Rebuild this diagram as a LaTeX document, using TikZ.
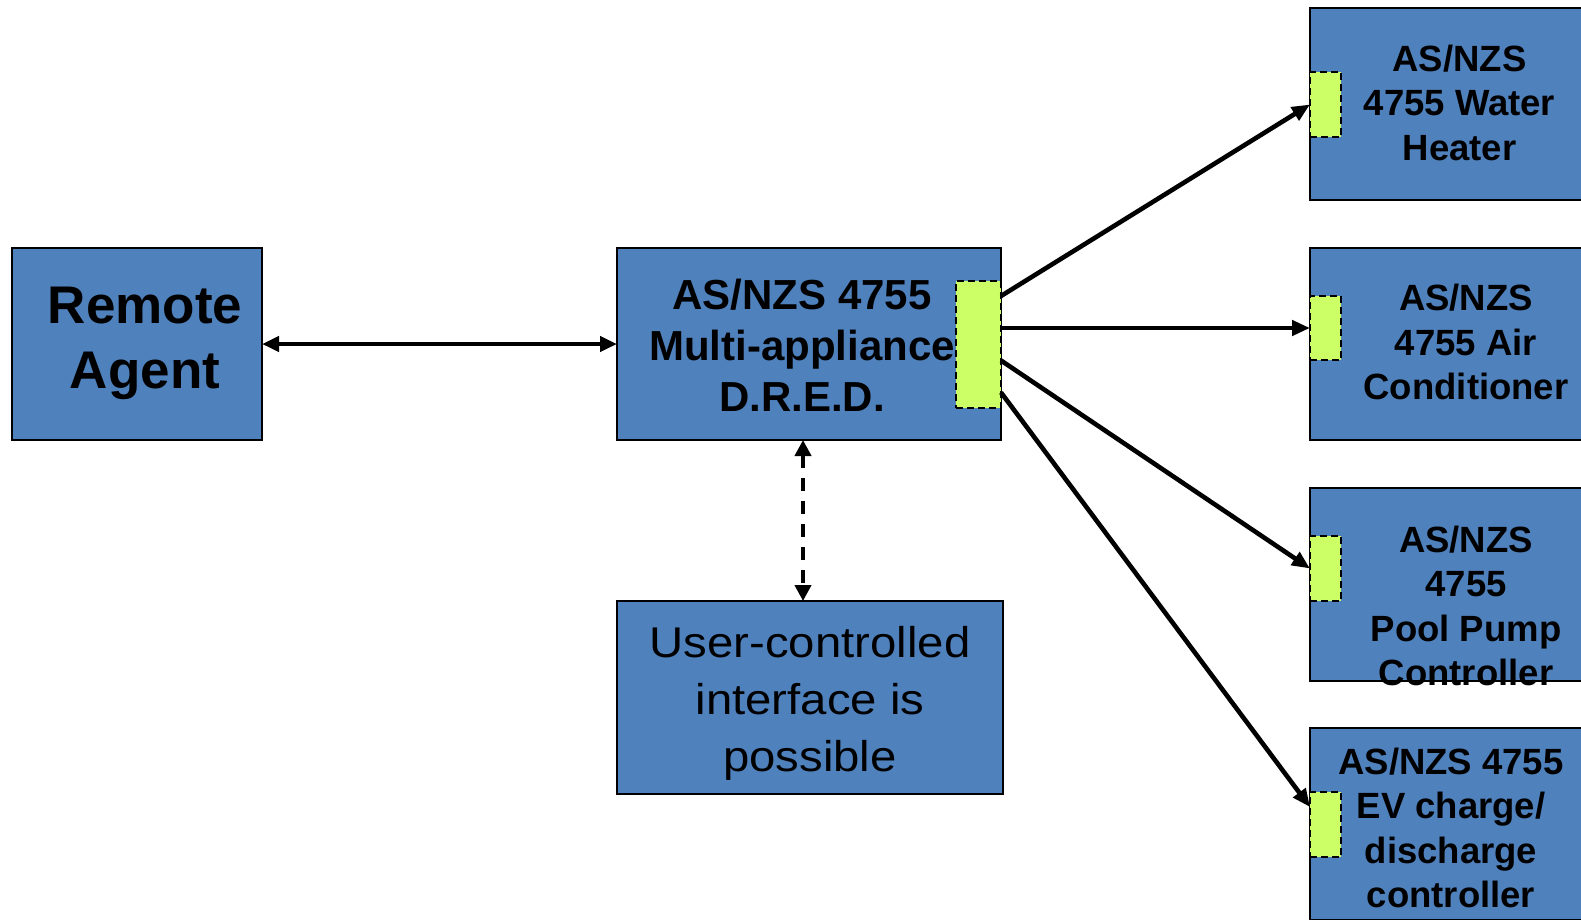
\documentclass[tikz,border=0pt]{standalone}
\usepackage{fontspec}
\setmainfont{Liberation Sans}
\newfontfamily\widesans[FakeStretch=1.1]{Liberation Sans}
\usetikzlibrary{arrows.meta}
\definecolor{unitblue}{RGB}{79,129,189}
\definecolor{portgreen}{RGB}{204,255,102}
\begin{document}
\begin{tikzpicture}[x=1pt,y=-1pt,
  unit/.style={draw=black,line width=2.2pt,fill=unitblue,inner sep=0pt,outer sep=0pt},
  port/.style={draw=black,line width=2.4pt,dash pattern=on 7pt off 4pt,fill=portgreen,inner sep=0pt,outer sep=0pt},
  caption/.style={align=center,inner sep=0pt,text=black},
  small/.style={caption,font=\bfseries\fontsize{36.5}{44.5}\selectfont},
  link/.style={line width=4.6pt,-{Triangle[length=18pt,width=15pt]}},
  twoway/.style={line width=4.6pt,{Triangle[length=17pt,width=15pt]}-{Triangle[length=17pt,width=15pt]}},
  optional/.style={line width=4pt,dash pattern=on 13pt off 10pt,
    {Triangle[length=16pt,width=16pt]}-{Triangle[length=16pt,width=16pt]}},
]
\clip (0,0) rectangle (1581,919);

% units
\node[unit,minimum width=250pt,minimum height=192pt] (remote) at (137,344) {};
\node[unit,minimum width=384pt,minimum height=192pt] (dred) at (809,344) {};
\node[unit,minimum width=386pt,minimum height=193pt] (user) at (810,697.5) {};
\node[unit,minimum width=312pt,minimum height=192pt] (water) at (1466,104) {};
\node[unit,minimum width=312pt,minimum height=192pt] (air) at (1466,344) {};
\node[unit,minimum width=312pt,minimum height=193pt] (pool) at (1466,584.5) {};
\node[unit,minimum width=312pt,minimum height=192pt] (ev) at (1466,824) {};

% captions
\node[caption,font=\bfseries\fontsize{53}{65}\selectfont] (remotetxt) at (145,343) {Remote\\Agent};
\node[caption,font=\bfseries\fontsize{42}{51}\selectfont] (dredtxt) at (802,345) {AS/NZS 4755\\Multi-appliance\\D.R.E.D.};
\node[caption,font=\widesans\fontsize{43}{57}\selectfont] (usertxt) at (810,703.5) {User-controlled\\interface is\\possible};
\node[small] (watertxt) at (1459.5,102.5) {AS/NZS\\4755 Water\\Heater};
\node[small] (airtxt) at (1466,342) {AS/NZS\\4755 Air\\Conditioner};
\node[small] (pooltxt) at (1466,606) {AS/NZS\\4755\\Pool Pump\\Controller};
\node[small] (evtxt) at (1451,828) {AS/NZS 4755\\EV charge/\\discharge\\controller};

% interface ports
\node[port,minimum width=45pt,minimum height=127pt] (dport) at (978.5,344.5) {};
\node[port,minimum width=31pt,minimum height=65pt] (wport) at (1325.5,104.5) {};
\node[port,minimum width=31pt,minimum height=64pt] (aport) at (1325.5,328) {};
\node[port,minimum width=31pt,minimum height=65pt] (pport) at (1325.5,568.5) {};
\node[port,minimum width=31pt,minimum height=65pt] (eport) at (1325.5,824.5) {};

% connections
\draw[twoway] (remote.east) -- (dred.west);
\draw[optional] ([xshift=-6pt]dred.south) -- ([xshift=-7pt]user.north);
\draw[link] ([yshift=48.5pt]dport.east) -- (wport.west);
\draw[link] ([yshift=16.5pt]dport.east) -- (aport.west);
\draw[link] ([yshift=-16pt]dport.east) -- (pport.west);
\draw[link] ([yshift=-48pt]dport.east) -- ([yshift=17.5pt]eport.west);
\end{tikzpicture}
\end{document}
